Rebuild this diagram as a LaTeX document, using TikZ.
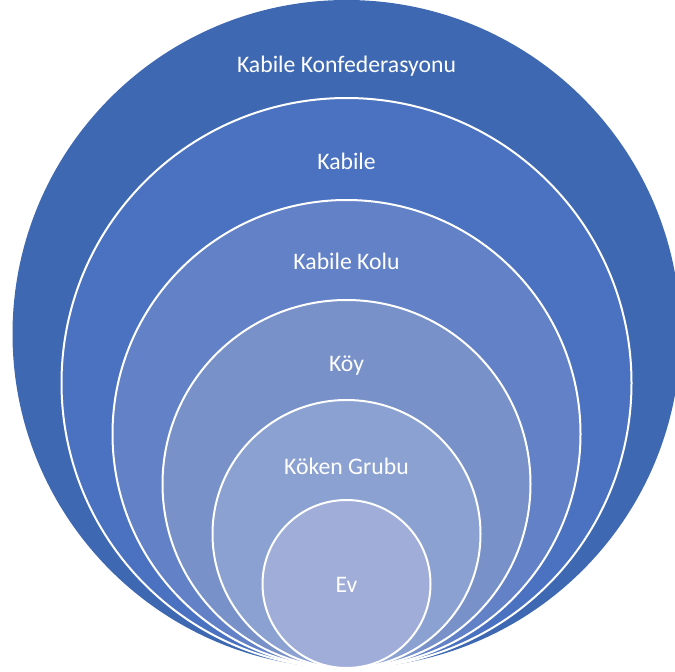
\documentclass[tikz,border=0pt]{standalone}
\usepackage{fontspec}
\setmainfont{Carlito}
\definecolor{c1}{HTML}{3E68B2}
\definecolor{c2}{HTML}{4A72C0}
\definecolor{c3}{HTML}{6281C7}
\definecolor{c4}{HTML}{7891C9}
\definecolor{c5}{HTML}{8BA1D1}
\definecolor{c6}{HTML}{9FADD8}
\begin{document}
\begin{tikzpicture}[x=1pt,y=-1pt,
  ring/.style={circle,draw=white,line width=2pt,inner sep=0pt},
  lbl/.style={text=white,font=\fontsize{23.7}{28}\selectfont,anchor=base,inner sep=0pt}]
\useasboundingbox (0,0) rectangle (675,672);
\clip (0,0) rectangle (675,672);
\node[circle,fill=c1,inner sep=0pt,minimum size=668pt] (o1) at (346.5,334) {};
\node[ring,fill=c2,minimum size=570pt] (o2) at (346.5,383) {};
\node[ring,fill=c3,minimum size=468pt] (o3) at (346.5,434) {};
\node[ring,fill=c4,minimum size=368pt] (o4) at (346.5,484) {};
\node[ring,fill=c5,minimum size=268pt] (o5) at (346.5,534) {};
\node[ring,fill=c6,minimum size=168pt] (o6) at (346.5,584) {};
\node[lbl] (t1) at (346.5,72) {Kabile Konfederasyonu};
\node[lbl] (t2) at (346.5,169) {Kabile};
\node[lbl] (t3) at (346.5,269) {Kabile Kolu};
\node[lbl] (t4) at (346.5,371) {Köy};
\node[lbl] (t5) at (346.5,474) {Köken Grubu};
\node[lbl] (t6) at (346.5,592) {Ev};
\end{tikzpicture}
\end{document}
